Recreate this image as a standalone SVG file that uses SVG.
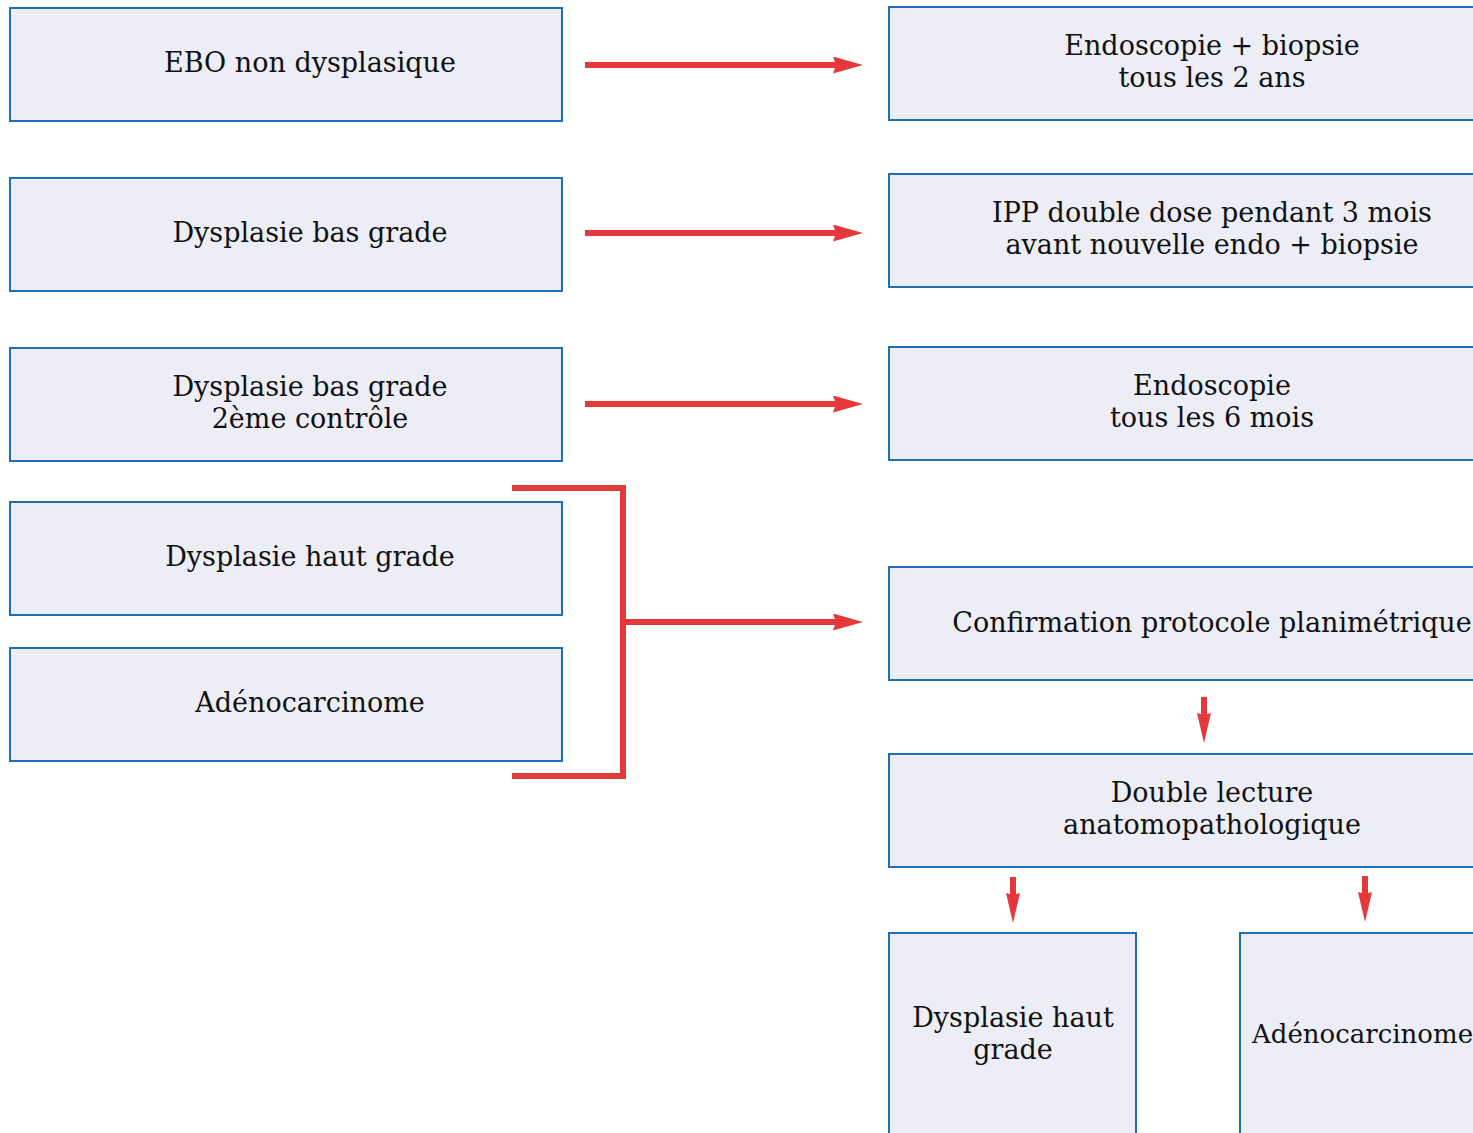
<svg xmlns="http://www.w3.org/2000/svg" width="1473" height="1133" viewBox="0 0 1473 1133">
<style>
.box{fill:#ecedf5;stroke:#1d6fb8;stroke-width:2}
.t{font-family:"DejaVu Serif","Liberation Serif",serif;font-size:27px;fill:#111;text-anchor:middle}
.c{fill:none;stroke:#e5383b;stroke-width:6}
</style>
<defs>
<marker id="ah" markerWidth="30" markerHeight="17" refX="3" refY="8.5" orient="auto" markerUnits="userSpaceOnUse">
<path d="M0,0 L30,8.5 L0,17 L3,8.5 Z" fill="#e5383b"/>
</marker>
<marker id="av" markerWidth="30" markerHeight="14" refX="2" refY="7" orient="auto" markerUnits="userSpaceOnUse">
<path d="M0,0 L30,7 L0,14 L2,7 Z" fill="#e5383b"/>
</marker>
</defs>
<rect width="1473" height="1133" fill="#fff"/>
<g id="n1"><rect class="box" x="10" y="8" width="552" height="113"/><text class="t" x="310" y="72">EBO non dysplasique</text></g>
<g id="n2"><rect class="box" x="10" y="178" width="552" height="113"/><text class="t" x="310" y="242">Dysplasie bas grade</text></g>
<g id="n3"><rect class="box" x="10" y="348" width="552" height="113"/><text class="t" x="310" y="396">Dysplasie bas grade</text><text class="t" x="310" y="428">2ème contrôle</text></g>
<g id="n4"><rect class="box" x="10" y="502" width="552" height="113"/><text class="t" x="310" y="566">Dysplasie haut grade</text></g>
<g id="n5"><rect class="box" x="10" y="648" width="552" height="113"/><text class="t" x="310" y="712">Adénocarcinome</text></g>
<g id="r1"><rect class="box" x="889" y="7" width="640" height="113"/><text class="t" x="1212" y="55">Endoscopie + biopsie</text><text class="t" x="1212" y="87">tous les 2 ans</text></g>
<g id="r2"><rect class="box" x="889" y="174" width="640" height="113"/><text class="t" x="1212" y="222">IPP double dose pendant 3 mois</text><text class="t" x="1212" y="254">avant nouvelle endo + biopsie</text></g>
<g id="r3"><rect class="box" x="889" y="347" width="640" height="113"/><text class="t" x="1212" y="395">Endoscopie</text><text class="t" x="1212" y="427">tous les 6 mois</text></g>
<g id="r4"><rect class="box" x="889" y="567" width="640" height="113"/><text class="t" x="1212" y="632">Confirmation protocole planimétrique</text></g>
<g id="r5"><rect class="box" x="889" y="754" width="640" height="113"/><text class="t" x="1212" y="802">Double lecture</text><text class="t" x="1212" y="834">anatomopathologique</text></g>
<g id="b1"><rect class="box" x="889" y="933" width="247" height="220"/><text class="t" x="1013" y="1027">Dysplasie haut</text><text class="t" x="1013" y="1059">grade</text></g>
<g id="b2"><rect class="box" x="1240" y="933" width="260" height="220"/><text class="t" x="1252" y="1043" style="text-anchor:start;font-size:26px">Adénocarcinome</text></g>
<g id="connectors">
<line class="c" x1="585" y1="65" x2="836" y2="65" marker-end="url(#ah)"/>
<line class="c" x1="585" y1="233" x2="836" y2="233" marker-end="url(#ah)"/>
<line class="c" x1="585" y1="404" x2="836" y2="404" marker-end="url(#ah)"/>
<path class="c" d="M512,488 H623 V776 H512"/>
<line class="c" x1="623" y1="622" x2="836" y2="622" marker-end="url(#ah)"/>
<line class="c" x1="1204" y1="697" x2="1204" y2="715" marker-end="url(#av)"/>
<line class="c" x1="1013" y1="877" x2="1013" y2="895" marker-end="url(#av)"/>
<line class="c" x1="1365" y1="876" x2="1365" y2="894" marker-end="url(#av)"/>
</g>
</svg>
